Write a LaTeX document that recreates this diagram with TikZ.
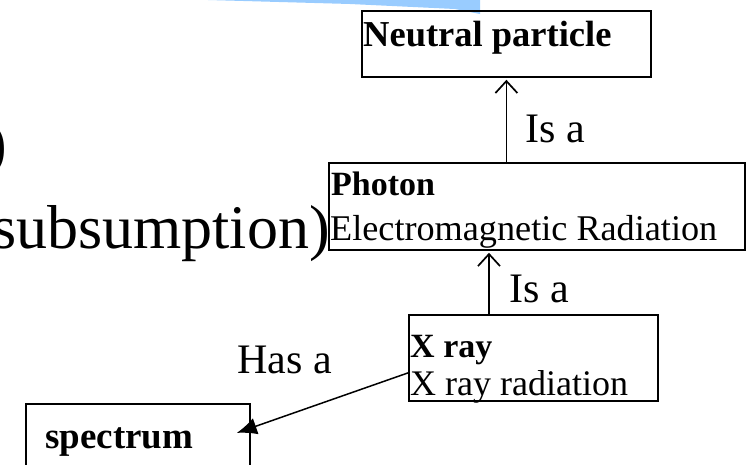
\documentclass[tikz,border=0pt]{standalone}
\usepackage{fontspec}
\newfontfamily\tms{Liberation Serif}
\usetikzlibrary{arrows.meta}
\definecolor{sliver}{RGB}{153,204,255}
\tikzset{
  box/.style={draw=black, line width=1.8pt, rectangle, inner sep=0pt, anchor=north west},
  isa/.style={-{Straight Barb[length=12pt,width=22pt,line width=1.7pt]}, line width=1.6pt},
  hasa/.style={-{Latex[length=20pt,width=17pt]}, line width=1.5pt},
  txt/.style={anchor=base west, inner sep=0pt},
  rel/.style={txt, font=\tms\fontsize{42}{50}\selectfont},
  big/.style={inner sep=0pt, anchor=base east, font=\tms\fontsize{62}{74}\selectfont},
}
\begin{document}
\begin{tikzpicture}[x=1pt,y=-1pt]
\useasboundingbox (0,0) rectangle (750,464);
\clip (0,0) rectangle (750,464);
% blue sliver at top
\fill[sliver] (208,0) -- (480,0) -- (480,14) -- (455,9) -- (350,4) -- cycle;
% left slide text
\node[big] (paren) at (7,164) {)};
\node[big] (subs) at (330,248) {subsumption)};
% boxes
\node[box, minimum width=289pt, minimum height=66pt] (np) at (361,10) {};
\node[box, minimum width=416pt, minimum height=87pt] (ph) at (328,162) {};
\node[box, minimum width=249pt, minimum height=86pt] (xr) at (408,314) {};
\node[box, minimum width=224pt, minimum height=90pt] (sp) at (25,403) {};
% box texts
\node[txt, font=\tms\bfseries\fontsize{36.5}{42}\selectfont] (npt) at (363,46) {Neutral particle};
\node[txt, font=\tms\bfseries\fontsize{34}{40}\selectfont] (pht) at (331,195) {Photon};
\node[txt, font=\tms\fontsize{36.2}{42}\selectfont] (phs) at (330,240) {Electromagnetic Radiation};
\node[txt, font=\tms\bfseries\fontsize{34}{40}\selectfont] (xrt) at (410,357) {X ray};
\node[txt, font=\tms\fontsize{36}{40}\selectfont] (xrs) at (410,395) {X ray radiation};
\node[txt, font=\tms\bfseries\fontsize{37}{42}\selectfont] (spt) at (45,448) {spectrum};
% connectors
\draw[isa] (np.south |- ph.north) -- ([yshift=-2pt]np.south);
\coordinate (a2) at ([xshift=81pt]xr.north west);
\draw[isa] (a2) -- ([yshift=-2pt]a2 |- ph.south);
\draw[hasa] ([yshift=-15pt]xr.west) -- ([xshift=-14pt,yshift=16pt]sp.east);
% relation labels
\node[rel] (l1) at (525,142) {Is a};
\node[rel] (l2) at (509,302) {Is a};
\node[rel] (l3) at (237,373) {Has a};
\end{tikzpicture}
\end{document}
